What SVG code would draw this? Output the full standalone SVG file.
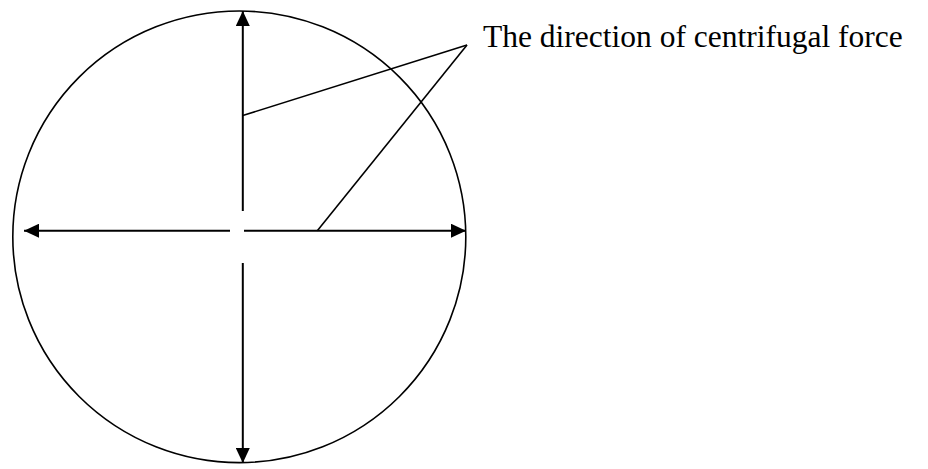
<svg xmlns="http://www.w3.org/2000/svg" width="928" height="469" viewBox="0 0 928 469">
<style>
.outline{fill:none;stroke:#000;stroke-width:1.6}
.arrow{fill:none;stroke:#000;stroke-width:2}
.leader{fill:none;stroke:#000;stroke-width:1.6}
.label{font-family:"Liberation Serif","Times New Roman",serif;font-size:31.5px;fill:#000}
</style>
<defs>
<marker id="head" viewBox="0 0 15 14" refX="15" refY="7" markerWidth="15" markerHeight="14" markerUnits="userSpaceOnUse" orient="auto">
<path d="M0,0 L15,7 L0,14 Z" fill="#000"/>
</marker>
</defs>
<rect width="928" height="469" fill="#fff"/>
<g id="circle">
<ellipse class="outline" cx="239.3" cy="236.8" rx="226.5" ry="225.8"/>
</g>
<g id="connectors">
<line class="arrow" x1="242.8" y1="211" x2="242.8" y2="11" marker-end="url(#head)"/>
<line class="arrow" x1="242.8" y1="263" x2="242.8" y2="463" marker-end="url(#head)"/>
<line class="arrow" x1="230" y1="230.7" x2="24" y2="230.7" marker-end="url(#head)"/>
<line class="arrow" x1="244" y1="230.7" x2="466" y2="230.7" marker-end="url(#head)"/>
<line class="leader" x1="242.8" y1="115.5" x2="467" y2="45"/>
<line class="leader" x1="317.3" y1="230.7" x2="467" y2="45"/>
</g>
<g id="label">
<text class="label" x="483" y="46.5">The direction of centrifugal force</text>
</g>
</svg>
